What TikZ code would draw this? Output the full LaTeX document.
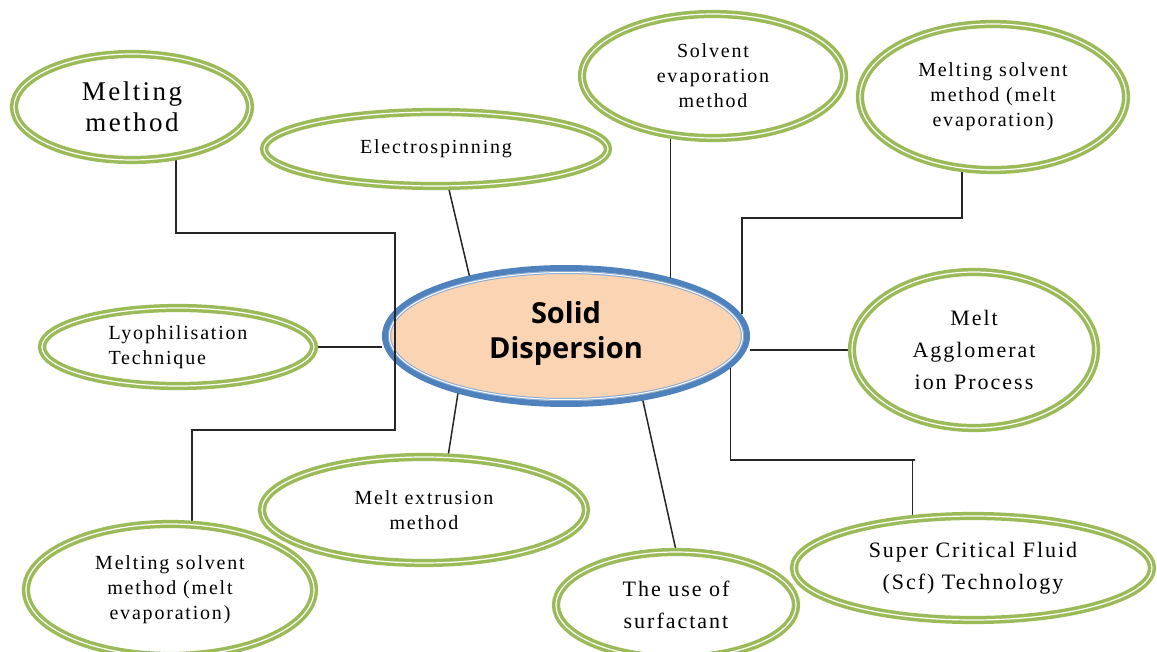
\documentclass[tikz,border=0pt]{standalone}
\usepackage{fontspec}
\setmainfont{Liberation Serif}[LetterSpace=9.0]
\newfontfamily\hubfont{Open Sans}
\usetikzlibrary{shapes.geometric, backgrounds}

\definecolor{leafgreen}{HTML}{9BBB59}
\definecolor{hubblue}{HTML}{4F81BD}
\definecolor{peach}{HTML}{FBD4B4}

\begin{document}
\begin{tikzpicture}[
    x=0.5pt, y=-0.5pt,
    method/.style={ellipse, draw=leafgreen, line width=1.75pt, double=white,
                   double distance=0.6pt, fill=white, inner sep=0pt, align=center},
    small/.style={font=\fontsize{10}{12.5}\selectfont},
    large/.style={font=\fontsize{11}{16}\selectfont},
    hub/.style={ellipse, draw=hubblue, line width=3pt, fill=peach, inner sep=0pt,
                align=center, font=\hubfont\bfseries\fontsize{14.5}{17.5}\selectfont},
    hubring/.style={draw=hubblue!70, line width=0.5pt, double=white, double distance=0.5pt},
    link/.style={draw=black!85, line width=0.75pt}
]
\useasboundingbox (0,0) rectangle (1157,652);

% ================= Centre =================
\begin{scope}[on background layer]
\node[hub, minimum width=181pt, minimum height=68pt] (solid) at (566,336) {Solid\\Dispersion\vspace{3pt}};
\draw[hubring] (solid.center) ellipse [x radius=176.5, y radius=63.5];
\end{scope}

% ================= Methods round the centre =================
\node[method, font=\fontsize{13.5}{15.5}\selectfont, minimum width=118pt, minimum height=53pt] (meltA) at (132,107) {Melting\\method};
\node[method, small, minimum width=172pt, minimum height=37pt] (elec) at (436,149) {Electrospinning};
\node[method, small, minimum width=131pt, minimum height=62pt] (solv) at (713,76) {Solvent\\evaporation\\method};
\node[method, small, minimum width=133pt, minimum height=73pt] (meltC) at (993,97) {Melting solvent\\method (melt\\evaporation)};
\node[method, small, align=left, minimum width=136pt, minimum height=39pt] (lyo) at (178,347) {Lyophilisation\\Technique};
\node[method, large, minimum width=122pt, minimum height=78pt] (agglo) at (974,350) {Melt\\Agglomerat\\ion Process};
\node[method, small, minimum width=162pt, minimum height=53pt] (extr) at (424,510) {Melt extrusion\\method};
\node[method, small, minimum width=144pt, minimum height=66pt] (meltB) at (170,590) {Melting solvent\\method (melt\\evaporation)};
\node[method, large, minimum width=120pt, minimum height=53pt] (surf) at (676,605) {The use of\\surfactant};
\node[method, large, minimum width=179pt, minimum height=52pt] (scf) at (973,568) {Super Critical Fluid\\(Scf) Technology};

% bends of the elbow connectors
\coordinate (leftbendA) at (395,233);
\coordinate (leftbendB) at (395,430);
\coordinate (rightbend) at (742,218);
\coordinate (scfbend) at (915,460);

% ================= Connectors =================
\begin{scope}[on background layer]
\draw[link] (meltA.-49) |- (leftbendA) -- (leftbendB) -| (meltB.72);
\draw[link] (elec.-72) -- (solid.148);
\draw[link] (solv.-125) -- (solv.-125 |- solid.29);
\draw[link] (meltC.-113) |- (rightbend) -- (rightbend |- solid.7);
\draw[link] (lyo.east) -- (lyo.east -| solid.west);
\draw[link] (solid.east |- agglo.west) -- (agglo.west);
\draw[link] (extr.66) -- (solid.-152);
\draw[link] (surf.north) -- (solid.-40);
\draw[link] (solid.-11) |- (scfbend) -| (scf.140);
\end{scope}

\end{tikzpicture}
\end{document}
